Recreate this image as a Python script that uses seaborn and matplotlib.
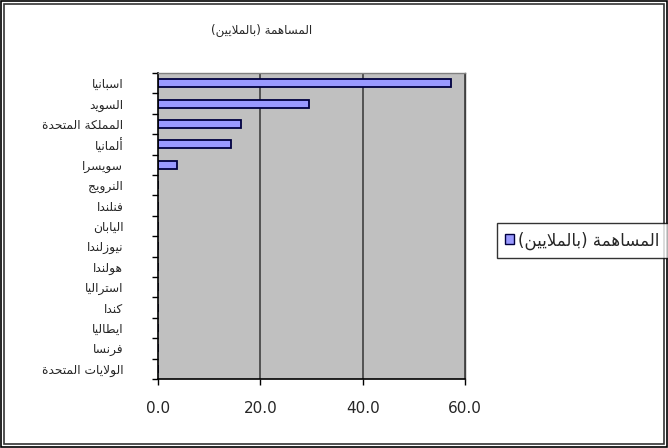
import matplotlib
matplotlib.use("Agg")
import matplotlib.pyplot as plt
import seaborn as sns
import pandas as pd
from matplotlib.patches import Patch, Rectangle

# ---------------- data ----------------
title_text = "المساهمة (بالملايين)"
series_name = "المساهمة (بالملايين)"
countries = ["اسبانيا", "السويد", "المملكة المتحدة", "ألمانيا", "سويسرا",
             "النرويج", "فنلندا", "اليابان", "نيوزلندا", "هولندا",
             "استراليا", "كندا", "ايطاليا", "فرنسا", "الولايات المتحدة"]
values = [57.2, 29.5, 16.2, 14.3, 3.7, 0, 0, 0, 0, 0, 0, 0, 0, 0, 0]
x_ticks = [0, 20, 40, 60]
x_tick_labels = ["0.0", "20.0", "40.0", "60.0"]

# ------------- minimal Arabic shaping (visual order) -------------
FORMS = {
    'ء': ('\uFE80', None, None, None),
    'آ': ('\uFE81', '\uFE82', None, None),
    'أ': ('\uFE83', '\uFE84', None, None),
    'ؤ': ('\uFE85', '\uFE86', None, None),
    'إ': ('\uFE87', '\uFE88', None, None),
    'ئ': ('\uFE89', '\uFE8A', '\uFE8B', '\uFE8C'),
    'ا': ('\uFE8D', '\uFE8E', None, None),
    'ب': ('\uFE8F', '\uFE90', '\uFE91', '\uFE92'),
    'ة': ('\uFE93', '\uFE94', None, None),
    'ت': ('\uFE95', '\uFE96', '\uFE97', '\uFE98'),
    'ث': ('\uFE99', '\uFE9A', '\uFE9B', '\uFE9C'),
    'ج': ('\uFE9D', '\uFE9E', '\uFE9F', '\uFEA0'),
    'ح': ('\uFEA1', '\uFEA2', '\uFEA3', '\uFEA4'),
    'خ': ('\uFEA5', '\uFEA6', '\uFEA7', '\uFEA8'),
    'د': ('\uFEA9', '\uFEAA', None, None),
    'ذ': ('\uFEAB', '\uFEAC', None, None),
    'ر': ('\uFEAD', '\uFEAE', None, None),
    'ز': ('\uFEAF', '\uFEB0', None, None),
    'س': ('\uFEB1', '\uFEB2', '\uFEB3', '\uFEB4'),
    'ش': ('\uFEB5', '\uFEB6', '\uFEB7', '\uFEB8'),
    'ص': ('\uFEB9', '\uFEBA', '\uFEBB', '\uFEBC'),
    'ض': ('\uFEBD', '\uFEBE', '\uFEBF', '\uFEC0'),
    'ط': ('\uFEC1', '\uFEC2', '\uFEC3', '\uFEC4'),
    'ظ': ('\uFEC5', '\uFEC6', '\uFEC7', '\uFEC8'),
    'ع': ('\uFEC9', '\uFECA', '\uFECB', '\uFECC'),
    'غ': ('\uFECD', '\uFECE', '\uFECF', '\uFED0'),
    'ف': ('\uFED1', '\uFED2', '\uFED3', '\uFED4'),
    'ق': ('\uFED5', '\uFED6', '\uFED7', '\uFED8'),
    'ك': ('\uFED9', '\uFEDA', '\uFEDB', '\uFEDC'),
    'ل': ('\uFEDD', '\uFEDE', '\uFEDF', '\uFEE0'),
    'م': ('\uFEE1', '\uFEE2', '\uFEE3', '\uFEE4'),
    'ن': ('\uFEE5', '\uFEE6', '\uFEE7', '\uFEE8'),
    'ه': ('\uFEE9', '\uFEEA', '\uFEEB', '\uFEEC'),
    'و': ('\uFEED', '\uFEEE', None, None),
    'ى': ('\uFEEF', '\uFEF0', None, None),
    'ي': ('\uFEF1', '\uFEF2', '\uFEF3', '\uFEF4'),
}
LAM_ALEF = {'آ': ('\uFEF5', '\uFEF6'), 'أ': ('\uFEF7', '\uFEF8'),
            'إ': ('\uFEF9', '\uFEFA'), 'ا': ('\uFEFB', '\uFEFC')}


def dual(c):
    return c in FORMS and FORMS[c][2] is not None


def shape(text):
    out = []
    i = 0
    n = len(text)
    while i < n:
        c = text[i]
        if c not in FORMS:
            out.append(c)
            i += 1
            continue
        prev = text[i - 1] if i > 0 else ''
        joins_prev = dual(prev) and FORMS[c][1] is not None
        if c == 'ل' and i + 1 < n and text[i + 1] in LAM_ALEF:
            iso, fin = LAM_ALEF[text[i + 1]]
            out.append(fin if joins_prev else iso)
            i += 2
            continue
        nxt = text[i + 1] if i + 1 < n else ''
        joins_next = dual(c) and nxt in FORMS and FORMS[nxt][1] is not None
        iso, fin, ini, med = FORMS[c]
        if joins_prev and joins_next:
            out.append(med)
        elif joins_prev:
            out.append(fin)
        elif joins_next:
            out.append(ini)
        else:
            out.append(iso)
        i += 1
    vis = ''.join(reversed(out))
    vis = vis.translate(str.maketrans({'(': ')', ')': '('}))
    return vis


# ---------------- plot ----------------
sns.set_style("white")
plt.rcParams['font.family'] = ['DejaVu Sans']

fig = plt.figure(figsize=(6.68, 4.48), dpi=100)
W, H = 668, 448
ax = fig.add_axes([158 / W, 1 - 379 / H, (465 - 158) / W, (379 - 73) / H])
ax.set_facecolor('#C0C0C0')

df = pd.DataFrame({'country': countries, 'value': values})
sns.barplot(data=df, x='value', y='country', order=countries, orient='h',
            color='#9999FF', edgecolor='#000040', linewidth=1.3,
            width=0.4, saturation=1, ax=ax)

ax.set_xlim(0, 60)
ax.set_ylim(len(countries) - 0.5, -0.5)
ax.set_xlabel('')
ax.set_ylabel('')

# grid
for xv in x_ticks[1:]:
    ax.axvline(xv, color='#404040', lw=1.2, zorder=0.5)

# x ticks
ax.set_xticks(x_ticks)
ax.set_xticklabels(x_tick_labels, fontsize=11)
ax.tick_params(axis='x', direction='out', length=4, width=1, color='black', pad=12, bottom=True)

# y ticks: marks at boundaries, labels at centers
ax.set_yticks([i - 0.5 for i in range(len(countries) + 1)])
ax.set_yticklabels([])
ax.set_yticks(list(range(len(countries))), minor=True)
ax.set_yticklabels([shape(c) for c in countries], minor=True, fontsize=8.8)
ax.tick_params(axis='y', which='major', direction='out', length=4, width=1, color='black', left=True)
ax.tick_params(axis='y', which='minor', length=0, pad=25)

for side in ['left', 'bottom']:
    ax.spines[side].set_color('black')
    ax.spines[side].set_linewidth(1.2)
for side in ['top', 'right']:
    ax.spines[side].set_color('#808080')
    ax.spines[side].set_linewidth(1.0)
ax.spines['right'].set_color('#404040')

fig.text(262 / W, 1 - 30 / H, shape(title_text), ha='center', va='center', fontsize=8.6)

# legend (extends past the right edge of the image, as in the reference)
handle = Patch(facecolor='#9999FF', edgecolor='#000040', linewidth=1)
leg = fig.legend([handle], [shape(series_name)], loc='upper left',
                 bbox_to_anchor=(497 / W, 1 - 223 / H), fontsize=12,
                 frameon=True, fancybox=False, edgecolor='black',
                 handlelength=0.55, handleheight=0.55, handletextpad=0.2,
                 borderpad=0.5, borderaxespad=0)
leg.get_frame().set_linewidth(1.0)

# outer double frame
fig.patches.append(Rectangle((0.75 / W, 0.75 / H), (W - 1.5) / W, (H - 1.5) / H,
                             transform=fig.transFigure, fill=False, edgecolor='black', lw=1.2))
fig.patches.append(Rectangle((4 / W, 4 / H), (W - 8) / W, (H - 8) / H,
                             transform=fig.transFigure, fill=False, edgecolor='#333333', lw=1.2))

fig.savefig('out.png', dpi=100)
